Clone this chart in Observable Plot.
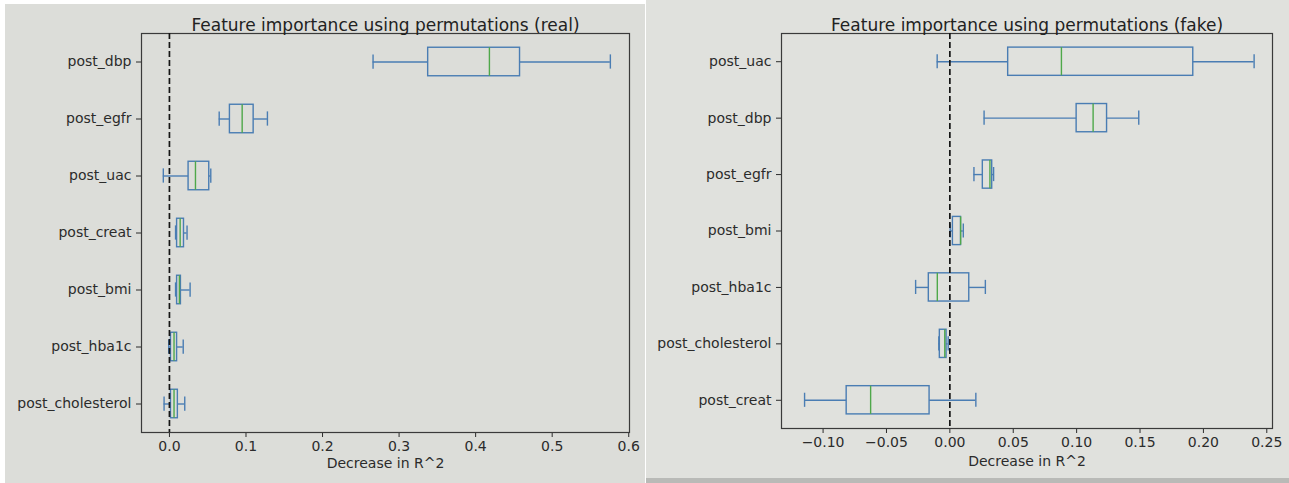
<!DOCTYPE html>
<html>
<head>
<meta charset="utf-8">
<script src="https://cdn.jsdelivr.net/npm/d3@7"></script>
<script src="https://cdn.jsdelivr.net/npm/@observablehq/plot@0.6"></script>
<style>
  html, body { margin: 0; padding: 0; background: #ffffff; width: 1289px; height: 483px; overflow: hidden; }
  .bg { position: absolute; }
  .panel { position: absolute; top: 0; }
</style>
</head>
<body>
<div class="bg" style="left:5px;top:4px;width:640px;height:479px;background:#dcddd9;"></div>
<div class="bg" style="left:646px;top:0px;width:643px;height:478px;background:#e0e1dd;"></div>
<div class="bg" style="left:646px;top:478px;width:643px;height:5px;background:#b9bab7;"></div>
<div id="left" class="panel" style="left:0px;"></div>
<div id="right" class="panel" style="left:646px;"></div>
<script>
// ---- Real data chart (top to bottom) ----
const realFeatures = ["post_dbp", "post_egfr", "post_uac", "post_creat", "post_bmi", "post_hba1c", "post_cholesterol"];
const realLo  = [0.266, 0.065, -0.008, 0.008, 0.008, -0.001, -0.007];
const realQ1  = [0.338, 0.079, 0.025, 0.010, 0.010, 0.002, 0.002];
const realMed = [0.418, 0.095, 0.034, 0.014, 0.013, 0.006, 0.006];
const realQ3  = [0.458, 0.110, 0.052, 0.019, 0.015, 0.010, 0.011];
const realHi  = [0.576, 0.128, 0.054, 0.023, 0.027, 0.018, 0.020];
const realTicks = [0, 0.1, 0.2, 0.3, 0.4, 0.5, 0.6];

// ---- Fake data chart (top to bottom) ----
const fakeFeatures = ["post_uac", "post_dbp", "post_egfr", "post_bmi", "post_hba1c", "post_cholesterol", "post_creat"];
const fakeLo  = [-0.010, 0.027, 0.019, 0.0003, -0.027, -0.0087, -0.1146];
const fakeQ1  = [0.046, 0.100, 0.026, 0.0024, -0.0166, -0.0079, -0.0814];
const fakeMed = [0.088, 0.113, 0.0316, 0.0085, -0.0099, -0.0040, -0.0625];
const fakeQ3  = [0.192, 0.124, 0.0334, 0.0088, 0.0153, -0.0026, -0.0160];
const fakeHi  = [0.240, 0.149, 0.0345, 0.0106, 0.028, -0.0013, 0.0205];
const fakeTicks = [-0.10, -0.05, 0, 0.05, 0.10, 0.15, 0.20, 0.25];

const xLabel = "Decrease in R^2";
const blue = "#4a7db3";
const green = "#4fa84a";

function boxChart(o) {
  const rows = o.features.map((f, i) => ({
    f, pos: i + 1, lo: o.lo[i], q1: o.q1[i], med: o.med[i], q3: o.q3[i], hi: o.hi[i]
  }));
  const half = 0.25, cap = 0.125;
  return Plot.plot({
    width: o.width,
    height: 483,
    marginLeft: o.ml,
    marginRight: o.mr,
    marginTop: 33,
    marginBottom: o.mb,
    style: { background: "transparent", fontFamily: "DejaVu Sans", fontSize: "14px", color: "#2b2b2b" },
    x: { domain: o.domain, ticks: o.ticks, tickFormat: d3.format(o.fmt), label: null, tickSize: 5, tickPadding: 4 },
    y: { domain: [0.5, 7.5], reverse: true, ticks: d3.range(1, 8), tickFormat: i => o.features[i - 1], label: null, tickSize: 5, tickPadding: 5 },
    marks: [
      Plot.frame({ stroke: "#3a3a3a", strokeWidth: 1.2 }),
      Plot.ruleY(rows, { y: "pos", x1: "lo", x2: "q1", stroke: blue, strokeWidth: 1.4 }),
      Plot.ruleY(rows, { y: "pos", x1: "q3", x2: "hi", stroke: blue, strokeWidth: 1.4 }),
      Plot.ruleX(rows, { x: "lo", y1: d => d.pos - cap, y2: d => d.pos + cap, stroke: blue, strokeWidth: 1.4 }),
      Plot.ruleX(rows, { x: "hi", y1: d => d.pos - cap, y2: d => d.pos + cap, stroke: blue, strokeWidth: 1.4 }),
      Plot.rect(rows, { x1: "q1", x2: "q3", y1: d => d.pos - half, y2: d => d.pos + half, fill: "none", stroke: blue, strokeWidth: 1.4 }),
      Plot.ruleX(rows, { x: "med", y1: d => d.pos - half, y2: d => d.pos + half, stroke: green, strokeWidth: 1.4 }),
      Plot.ruleX([0], { stroke: "#151515", strokeWidth: 1.7, strokeDasharray: "6,3" }),
      Plot.text([o.title], { frameAnchor: "top", dy: -15, fontSize: 17, fill: "#222" }),
      Plot.text([xLabel], { frameAnchor: "bottom", dy: o.labelDy, fontSize: 14, fill: "#2b2b2b" })
    ]
  });
}

document.getElementById("left").append(boxChart({
  features: realFeatures, lo: realLo, q1: realQ1, med: realMed, q3: realQ3, hi: realHi,
  domain: [-0.0365, 0.601], ticks: realTicks, fmt: ".1f",
  title: "Feature importance using permutations (real)",
  width: 645, ml: 141, mr: 16, mb: 51, labelDy: 35
}));

document.getElementById("right").append(boxChart({
  features: fakeFeatures, lo: fakeLo, q1: fakeQ1, med: fakeMed, q3: fakeQ3, hi: fakeHi,
  domain: [-0.1328, 0.2545], ticks: fakeTicks, fmt: ".2f",
  title: "Feature importance using permutations (fake)",
  width: 643, ml: 135, mr: 17, mb: 55, labelDy: 37
}));
</script>
</body>
</html>
